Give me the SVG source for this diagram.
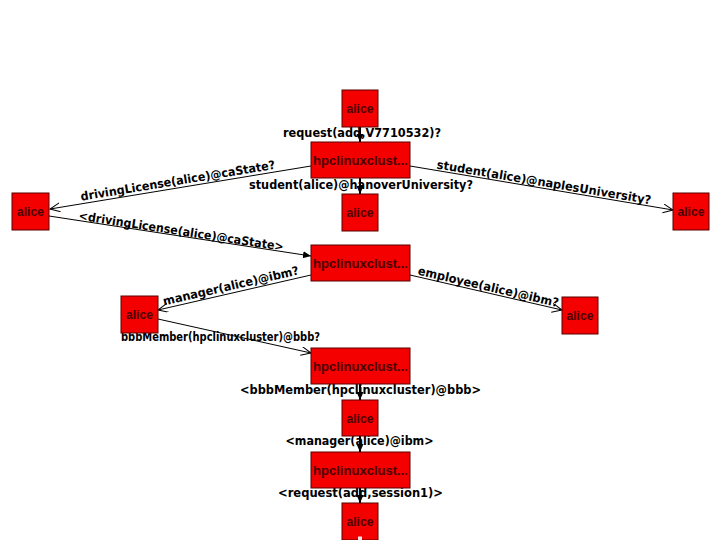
<svg xmlns="http://www.w3.org/2000/svg" width="720" height="540" viewBox="0 0 720 540">
<defs>
<style>
.node rect{fill:#f40000;stroke:#5a0000;stroke-width:1}
.node text{font-family:"Liberation Sans",Arial,sans-serif;font-size:12px;font-weight:bold;fill:#4a0000;text-anchor:middle}
.lbl{font-family:"DejaVu Sans","Liberation Sans",sans-serif;font-size:12px;font-weight:bold;fill:#000;text-anchor:middle}
.e{stroke:#000;stroke-width:1;fill:none}
.v{stroke:#000;stroke-width:2;fill:none}
</style>
<marker id="fa" markerUnits="userSpaceOnUse" markerWidth="10" markerHeight="10" refX="8" refY="3.5" orient="auto">
<path d="M0,0 L8,3.5 L0,7 z" fill="#000"/>
</marker>
<marker id="oa" markerUnits="userSpaceOnUse" markerWidth="12" markerHeight="12" refX="10" refY="4.5" orient="auto">
<path d="M0,0 L10,4.5 L0,9" fill="none" stroke="#000" stroke-width="1"/>
</marker>
</defs>
<rect width="720" height="540" fill="#fff"/>

<g id="connectors">
<line class="v" x1="360" y1="127" x2="360" y2="142" marker-end="url(#fa)"/>
<line class="v" x1="360" y1="178" x2="360" y2="194" marker-end="url(#fa)"/>
<line class="e" x1="311" y1="166" x2="50" y2="209" marker-end="url(#oa)"/>
<line class="e" x1="410" y1="166" x2="673" y2="210" marker-end="url(#oa)"/>
<line class="e" x1="49" y1="216" x2="311" y2="256" marker-end="url(#fa)"/>
<line class="e" x1="311" y1="275" x2="158" y2="310" marker-end="url(#oa)"/>
<line class="e" x1="410" y1="275" x2="562" y2="310" marker-end="url(#oa)"/>
<line class="e" x1="158" y1="319" x2="311" y2="353" marker-end="url(#oa)"/>
<line class="v" x1="360" y1="384" x2="360" y2="400" marker-end="url(#fa)"/>
<line class="v" x1="360" y1="436" x2="360" y2="452" marker-end="url(#fa)"/>
<line class="v" x1="360" y1="488" x2="360" y2="503" marker-end="url(#fa)"/>

<text class="lbl" x="362" y="137" textLength="158" lengthAdjust="spacingAndGlyphs">request(add,V7710532)?</text>
<text class="lbl" x="361" y="189" textLength="224" lengthAdjust="spacingAndGlyphs">student(alice)@hanoverUniversity?</text>
<g transform="translate(179,187.7) rotate(-9.36)"><text class="lbl" x="0" y="-3" textLength="197" lengthAdjust="spacingAndGlyphs">drivingLicense(alice)@caState?</text></g>
<g transform="translate(180.5,236.2) rotate(8.71)"><text class="lbl" x="0" y="-1" textLength="207" lengthAdjust="spacingAndGlyphs">&lt;drivingLicense(alice)@caState&gt;</text></g>
<g transform="translate(543,188.3) rotate(9.5)"><text class="lbl" x="0" y="-2" textLength="217" lengthAdjust="spacingAndGlyphs">student(alice)@naplesUniversity?</text></g>
<g transform="translate(232.5,292.8) rotate(-12.97)"><text class="lbl" x="0" y="-3" textLength="139" lengthAdjust="spacingAndGlyphs">manager(alice)@ibm?</text></g>
<g transform="translate(487,292.8) rotate(13.05)"><text class="lbl" x="0" y="-2" textLength="144" lengthAdjust="spacingAndGlyphs">employee(alice)@ibm?</text></g>
<text class="lbl" x="220.5" y="341" textLength="199" lengthAdjust="spacingAndGlyphs">bbbMember(hpclinuxcluster)@bbb?</text>
<text class="lbl" x="360.5" y="394" textLength="241" lengthAdjust="spacingAndGlyphs">&lt;bbbMember(hpclinuxcluster)@bbb&gt;</text>
<text class="lbl" x="359.5" y="445" textLength="148" lengthAdjust="spacingAndGlyphs">&lt;manager(alice)@ibm&gt;</text>
<text class="lbl" x="360.5" y="497" textLength="165" lengthAdjust="spacingAndGlyphs">&lt;request(add,session1)&gt;</text>
</g>

<g id="n1" class="node"><rect x="342" y="90" width="36" height="37"/><text x="360" y="113" textLength="27" lengthAdjust="spacingAndGlyphs">alice</text></g>
<g id="n2" class="node"><rect x="311" y="142" width="99" height="36"/><text x="360.5" y="164.5" textLength="95" lengthAdjust="spacingAndGlyphs">hpclinuxclust...</text></g>
<g id="n3" class="node"><rect x="342" y="194" width="36" height="37"/><text x="360" y="217" textLength="27" lengthAdjust="spacingAndGlyphs">alice</text></g>
<g id="n4" class="node"><rect x="12" y="193" width="37" height="37"/><text x="30.5" y="216" textLength="27" lengthAdjust="spacingAndGlyphs">alice</text></g>
<g id="n5" class="node"><rect x="673" y="193" width="36" height="37"/><text x="691" y="216" textLength="27" lengthAdjust="spacingAndGlyphs">alice</text></g>
<g id="n6" class="node"><rect x="311" y="245" width="99" height="36"/><text x="360.5" y="267.5" textLength="95" lengthAdjust="spacingAndGlyphs">hpclinuxclust...</text></g>
<g id="n7" class="node"><rect x="121" y="296" width="37" height="37"/><text x="139.5" y="319" textLength="27" lengthAdjust="spacingAndGlyphs">alice</text></g>
<g id="n8" class="node"><rect x="562" y="297" width="36" height="37"/><text x="580" y="320" textLength="27" lengthAdjust="spacingAndGlyphs">alice</text></g>
<g id="n9" class="node"><rect x="311" y="348" width="99" height="36"/><text x="360.5" y="370.5" textLength="95" lengthAdjust="spacingAndGlyphs">hpclinuxclust...</text></g>
<g id="n10" class="node"><rect x="342" y="400" width="36" height="36"/><text x="360" y="422.5" textLength="27" lengthAdjust="spacingAndGlyphs">alice</text></g>
<g id="n11" class="node"><rect x="311" y="452" width="99" height="36"/><text x="360.5" y="474.5" textLength="95" lengthAdjust="spacingAndGlyphs">hpclinuxclust...</text></g>
<g id="n12" class="node"><rect x="342" y="503" width="36" height="37"/><text x="360" y="526" textLength="27" lengthAdjust="spacingAndGlyphs">alice</text><rect x="358" y="536.5" width="4" height="4" style="fill:#f4e4e4;stroke:none"/></g>
</svg>
